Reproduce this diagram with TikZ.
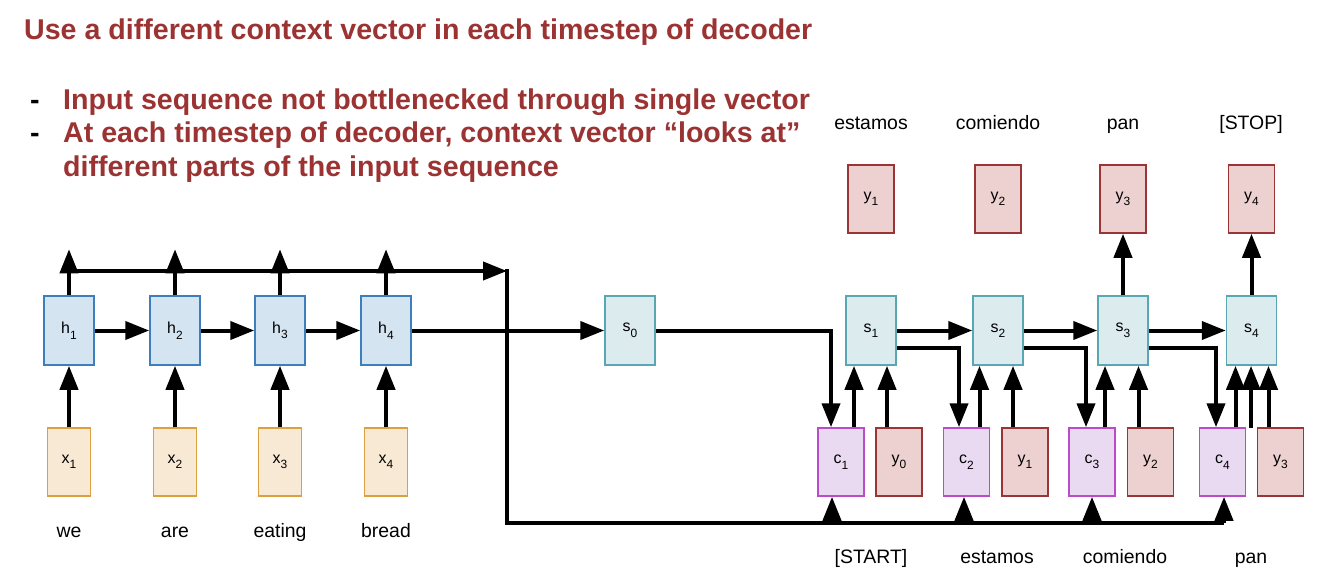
\documentclass[tikz,border=0pt]{standalone}
\usepackage{fontspec}
\setmainfont{Liberation Sans}
\usetikzlibrary{arrows.meta}
\definecolor{hfill}{HTML}{D5E4F1}\definecolor{hdraw}{HTML}{3D7EBD}
\definecolor{xfill}{HTML}{F7E9D4}\definecolor{xdraw}{HTML}{DCA03F}
\definecolor{sfill}{HTML}{DBEBEE}\definecolor{sdraw}{HTML}{58A7B2}
\definecolor{cfill}{HTML}{E9D9F1}\definecolor{cdraw}{HTML}{BC4BC9}
\definecolor{yfill}{HTML}{EDD1D1}\definecolor{ydraw}{HTML}{9A3535}
\definecolor{titlered}{HTML}{9B3333}
\newcommand\sbx[2]{#1\raisebox{-5.5bp}{\fontsize{12}{12}\selectfont #2}}
\tikzset{
  box/.style={draw, line width=1.5bp, inner sep=0pt, font=\fontsize{16}{16}\selectfont},
  hbox/.style={box, fill=hfill, draw=hdraw, minimum width=50bp, minimum height=69bp},
  xbox/.style={box, fill=xfill, draw=xdraw, minimum width=43bp, minimum height=68bp},
  sbox/.style={box, fill=sfill, draw=sdraw, minimum width=50bp, minimum height=69bp},
  cbox/.style={box, fill=cfill, draw=cdraw, minimum width=46bp, minimum height=68bp},
  ybox/.style={box, fill=yfill, draw=ydraw, minimum width=46bp, minimum height=68bp},
  word/.style={anchor=base, inner sep=0pt, font=\fontsize{19.5}{20}\selectfont},
  arr/.style={line width=4bp, -{Triangle[length=24bp,width=18bp]}},
  plain/.style={line width=4.5bp},
  headline/.style={anchor=base west, inner sep=0pt, text=titlered, font=\fontsize{28.7}{34}\selectfont\bfseries},
}
\begin{document}
\begin{tikzpicture}[x=1bp,y=-1bp]
\useasboundingbox (0,0) rectangle (1328,586);
% texts
\node[headline] (title) at (24,40) {Use a different context vector in each timestep of decoder};
\node[headline, text=black] (d1) at (30,110) {-};
\node[headline, text=black] (d2) at (30,143) {-};
\node[headline] (b1) at (63,110) {Input sequence not bottlenecked through single vector};
\node[headline] (b2) at (63,143) {At each timestep of decoder, context vector “looks at”};
\node[headline] (b3) at (63,177) {different parts of the input sequence};
% encoder
\foreach \i/\xx/\w in {1/69/we,2/175/are,3/280/eating,4/386/bread}{
  \node[hbox] (h\i) at (\xx,330.5) {\sbx{h}{\i}};
  \node[xbox] (x\i) at (\xx,462) {\sbx{x}{\i}};
  \node[word] (w\i) at (\xx,537) {\w};
}
\node[sbox] (s0) at (630,330.5) {\sbx{s}{0}};
% decoder
\foreach \i/\xx in {1/871,2/998,3/1123,4/1251.5}{
  \node[sbox] (s\i) at (\xx,330.5) {\sbx{s}{\i}};
  \node[ybox] (yt\i) at (\xx,199) {\sbx{y}{\i}};
}
\foreach \i/\xx in {1/841,2/966.5,3/1092,4/1222.5}{
  \node[cbox] (c\i) at (\xx,462) {\sbx{c}{\i}};
}
\foreach \n/\j/\xx in {yb0/0/899,yb1/1/1025,yb2/2/1150.5,yb3/3/1280.5}{
  \node[ybox] (\n) at (\xx,462) {\sbx{y}{\j}};
}
\node[word] (o1) at (871,130) {estamos};
\node[word] (o2) at (998,130) {comiendo};
\node[word] (o3) at (1123,130) {pan};
\node[word] (o4) at (1251,130) {[STOP]};
\node[word] (i1) at (871,563) {[START]};
\node[word] (i2) at (997,563) {estamos};
\node[word] (i3) at (1125,563) {comiendo};
\node[word] (i4) at (1251,563) {pan};
% encoder connectors
\coordinate (tl) at (68,271);
\coordinate (tr) at (507,271);
\coordinate (tc) at (507,269);
\coordinate (bl) at (507,523);
\foreach \i in {1,2,3,4}{
  \draw[arr] (x\i.north) -- (h\i.south);
  \draw[arr] (h\i.north) -- ++(0,-46);
}
\draw[arr] (h1.east) -- (h2.west);
\draw[arr] (h2.east) -- (h3.west);
\draw[arr] (h3.east) -- (h4.west);
\draw[arr] (tl) -- (tr);
\draw[arr] (h4.east) -- (s0.west);
\draw[plain] (tc) -- (bl) -- ([xshift=1.5bp]c4.south |- bl);
% bottom arrows into c
\draw[arr] ([xshift=-9bp]c1.south |- bl) -- ([xshift=-9bp]c1.south);
\draw[arr] ([xshift=-2.5bp]c2.south |- bl) -- ([xshift=-2.5bp]c2.south);
\draw[arr] (c3.south |- bl) -- (c3.south);
\draw[arr] ([xshift=1.5bp]c4.south |- bl) -- ([xshift=1.5bp]c4.south);
% decoder connectors
\draw[arr] (s0.east) -| ([xshift=-10bp]c1.north);
\draw[arr] ([yshift=-17.5bp]s1.east) -| ([xshift=-7.5bp]c2.north);
\draw[arr] ([yshift=-17.5bp]s2.east) -| ([xshift=-6bp]c3.north);
\draw[arr] ([yshift=-17.5bp]s3.east) -| ([xshift=-6.5bp]c4.north);
\draw[arr] (s1.east) -- (s2.west);
\draw[arr] (s2.east) -- (s3.west);
\draw[arr] (s3.east) -- (s4.west);
\draw[arr] (s3.north) -- (yt3.south);
\draw[arr] (s4.north) -- (yt4.south);
\foreach \i/\j in {1/1,2/2,3/3,4/4}{
  \draw[arr] ([xshift=13bp]c\i.north) -- ([xshift=13bp]c\i.north |- s\j.south);
}
\foreach \n/\j in {yb0/1,yb1/2,yb2/3,yb3/4}{
  \draw[arr] ([xshift=-12bp]\n.north) -- ([xshift=-12bp]\n.north |- s\j.south);
}
\coordinate (ex) at (1251,428);
\draw[arr] (ex) -- (ex |- s4.south);
\end{tikzpicture}
\end{document}
